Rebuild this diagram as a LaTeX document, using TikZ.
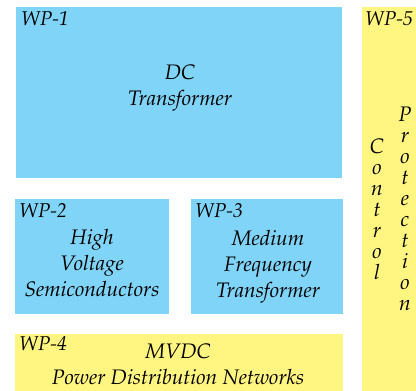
\documentclass[tikz,border=0pt]{standalone}
\usepackage[T1]{fontenc}
\usepackage{mathpazo}
\usepackage{tikz}

\definecolor{wpblue}{HTML}{7FD4F7}
\definecolor{wpyellow}{HTML}{FFF681}

\tikzset{
	wplabel/.style={anchor=base west, inner sep=0pt, font=\fontsize{20}{24}\selectfont\itshape},
	wptext/.style={align=center, inner sep=0pt, font=\fontsize{21}{25.8}\selectfont\itshape},
	wpvert/.style={align=center, inner sep=0pt, font=\fontsize{21}{21}\selectfont\itshape},
}

\begin{document}
\begin{tikzpicture}[x=1pt,y=-1pt]
	\useasboundingbox (0,0) rectangle (416,391);
	% work packages
	\fill[wpblue] (16,7) rectangle (342,178);
	\fill[wpblue] (15,199) rectangle (169,314);
	\fill[wpblue] (191,199) rectangle (343,314);
	\fill[wpyellow] (15,334) rectangle (343,391);
	\fill[wpyellow] (362,7) rectangle (416,391);
	% labels
	\node[wplabel] (wp1) at (21,25) {WP-1};
	\node[wplabel] (wp2) at (19,217) {WP-2};
	\node[wplabel] (wp3) at (195,217) {WP-3};
	\node[wplabel] (wp4) at (19,350) {WP-4};
	\node[wplabel] (wp5) at (365,25) {WP-5};
	% contents
	\node[wptext] (dc) at (180,88) {DC\\Transformer};
	\node[wptext] (hvs) at (92,263) {High\\Voltage\\Semiconductors};
	\node[wptext] (mft) at (268,267) {Medium\\Frequency\\Transformer};
	\node[wptext] (mvdc) at (178,364) {MVDC\\Power Distribution Networks};
	\node[wpvert] (ctrl) at (377,209) {C\\o\\n\\t\\r\\o\\l};
	\node[wpvert] (prot) at (405,209) {P\\r\\o\\t\\e\\c\\t\\i\\o\\n};
\end{tikzpicture}
\end{document}
